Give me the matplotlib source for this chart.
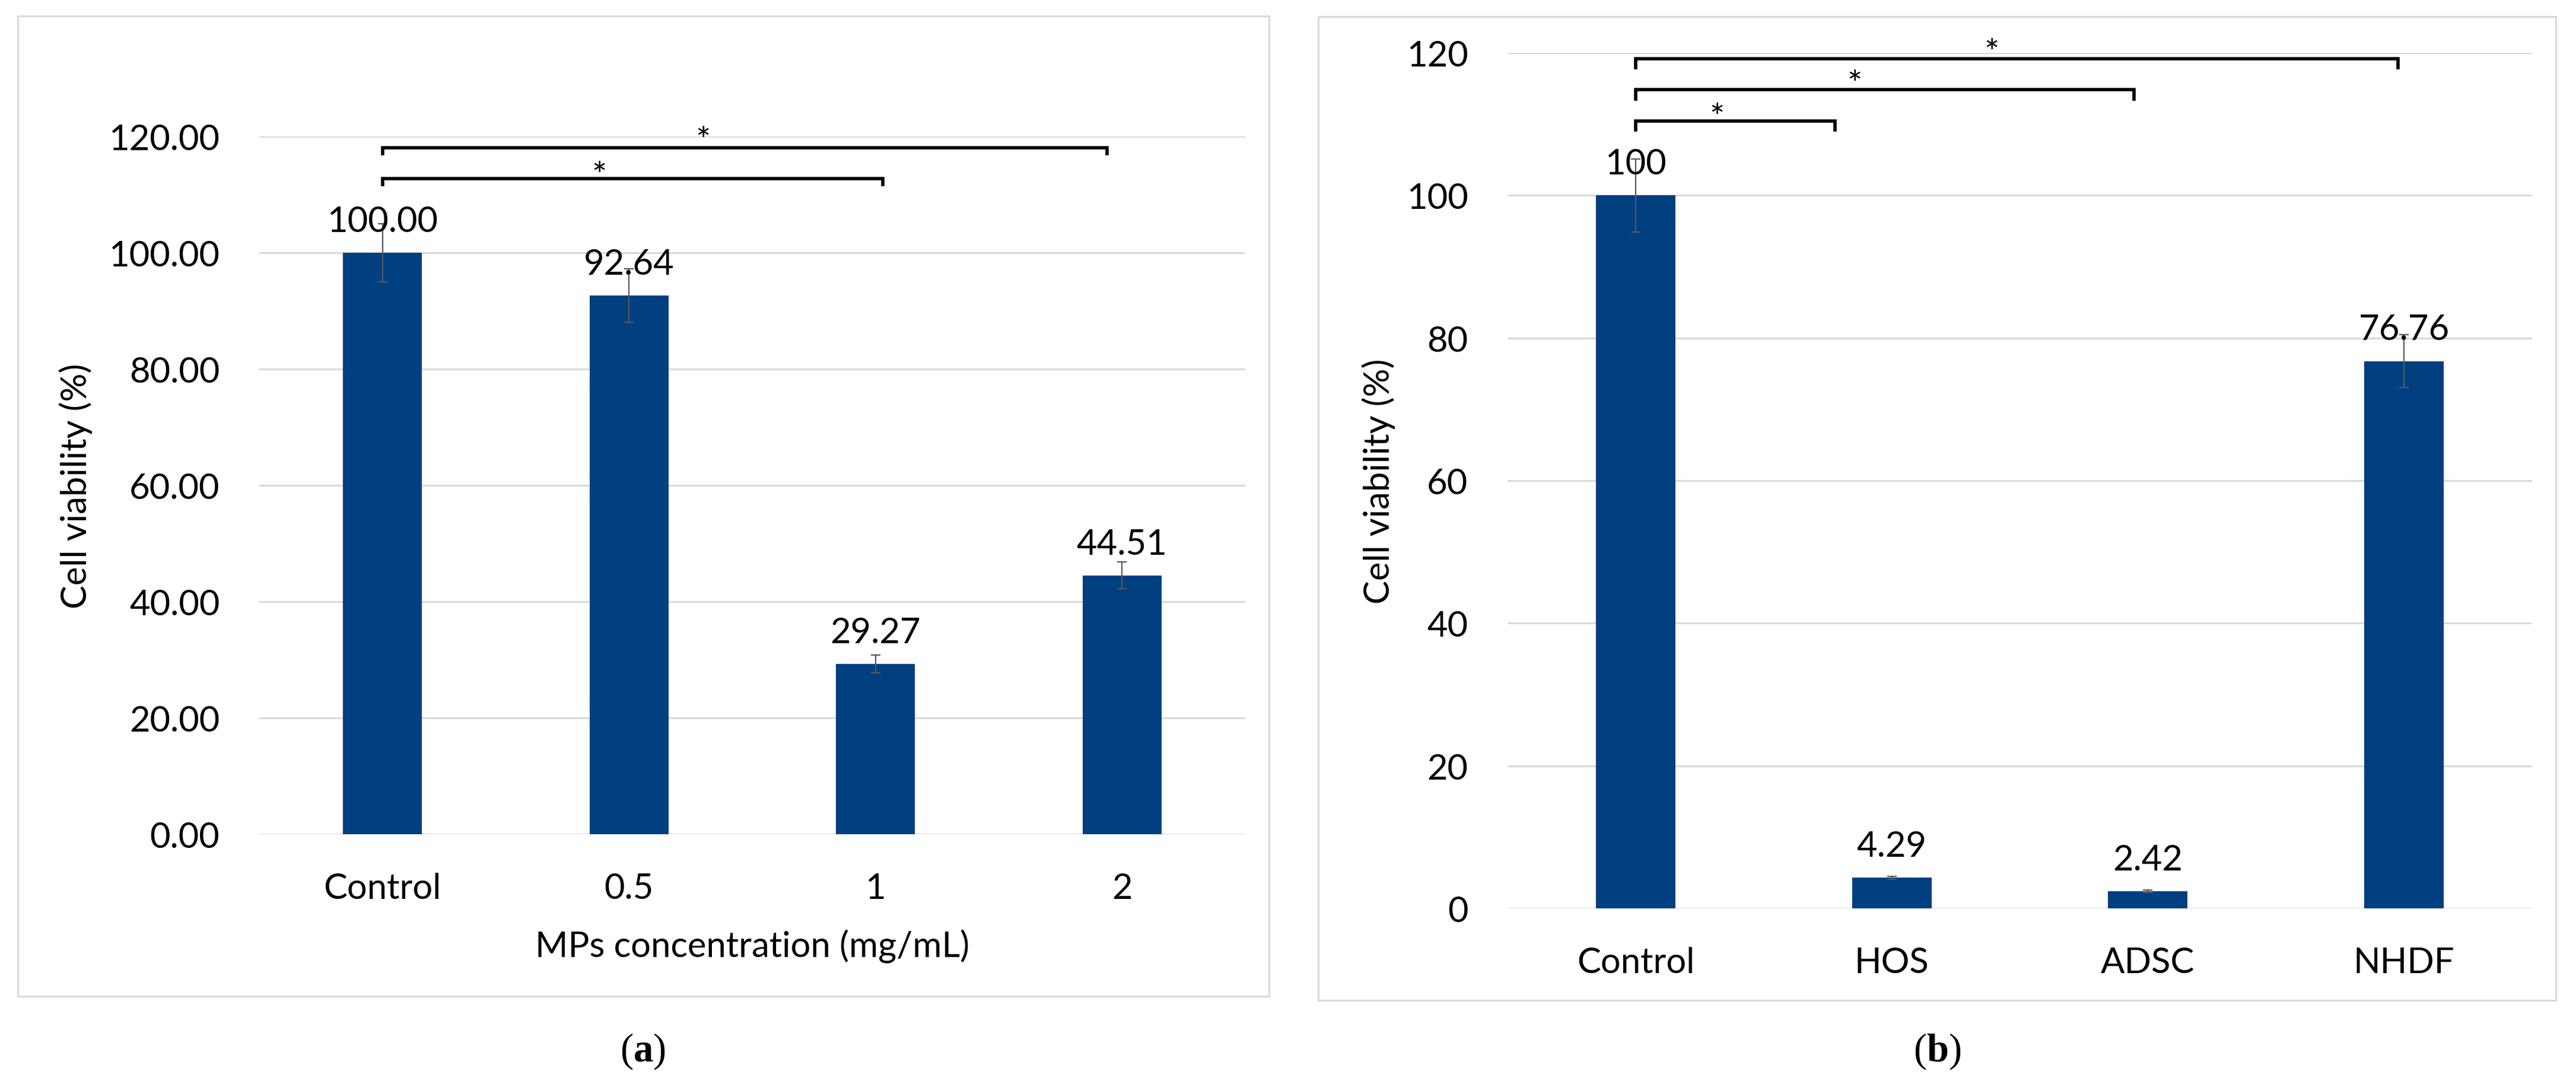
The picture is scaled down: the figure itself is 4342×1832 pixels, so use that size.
import matplotlib
matplotlib.use('Agg')
import matplotlib.pyplot as plt
from matplotlib.patches import Rectangle
from matplotlib.ticker import FormatStrFormatter
import numpy as np

plt.rcParams['font.family'] = ['Lato', 'DejaVu Sans']
plt.rcParams['mathtext.fontset'] = 'custom'
plt.rcParams['mathtext.rm'] = 'Liberation Serif'
plt.rcParams['mathtext.bf'] = 'Liberation Serif:bold'

# data, panel (a)
cats_a = ['Control', '0.5', '1', '2']
vals_a = [100.00, 92.64, 29.27, 44.51]
err_a = [5.0, 4.6, 1.5, 2.3]
labels_a = ['100.00', '92.64', '29.27', '44.51']
# brackets: (start, end, height, star x, star y)
sig_a = [(0, 2.94, 118.1, 1.30, 120.9),
         (0, 2.03, 112.8, 0.88, 114.9)]

# data, panel (b)
cats_b = ['Control', 'HOS', 'ADSC', 'NHDF']
vals_b = [100, 4.29, 2.42, 76.76]
err_b = [5.1, 0.2, 0.15, 3.7]
labels_b = ['100', '4.29', '2.42', '76.76']
sig_b = [(0, 2.976, 119.2, 1.39, 121.3),
         (0, 1.945, 114.8, 0.855, 116.9),
         (0, 0.778, 110.4, 0.317, 112.2)]

bar_color = '#003F80'
grid_color = '#D9D9D9'
fs = 43

fig = plt.figure(figsize=(43.42, 18.33), dpi=100)

# outer frames of the two panels
fig.patches.append(Rectangle((0.0069, 0.0835), 0.4857, 0.9012, transform=fig.transFigure,
                             fill=False, edgecolor=grid_color, linewidth=2.2))
fig.patches.append(Rectangle((0.5118, 0.0797), 0.4804, 0.9045, transform=fig.transFigure,
                             fill=False, edgecolor=grid_color, linewidth=2.2))

ax1 = fig.add_axes([0.10065, 0.23241, 0.38277, 0.64157])
ax2 = fig.add_axes([0.58521, 0.16421, 0.39775, 0.78669])


def draw_panel(ax, cats, vals, errs, labels, sigs, width, tick_fmt, tick_h):
    x = np.arange(len(cats))
    ax.bar(x, vals, width=width, color=bar_color, zorder=2)
    ax.errorbar(x, vals, yerr=errs, fmt='none', ecolor='#595959', elinewidth=1.6,
                capsize=6, capthick=1.6, zorder=3)
    for xi, v, lab in zip(x, vals, labels):
        ax.annotate(lab, (xi, v), xytext=(0, 26), textcoords='offset points',
                    ha='center', va='baseline', fontsize=fs, zorder=4)
    for x0, x1, y, sx, sy in sigs:
        ax.plot([x0, x0, x1, x1], [y - tick_h, y, y, y - tick_h], color='black',
                lw=4, clip_on=False, solid_joinstyle='miter', zorder=5)
        ax.annotate('*', (sx, sy), xytext=(0, -25), textcoords='offset points',
                    ha='center', va='baseline', fontsize=fs, annotation_clip=False)
    ax.set_xlim(-0.5, len(cats) - 0.5)
    ax.set_ylim(0, 120)
    ax.set_yticks(np.arange(0, 121, 20))
    ax.yaxis.set_major_formatter(FormatStrFormatter(tick_fmt))
    ax.set_xticks(x)
    ax.set_xticklabels(cats)
    ax.yaxis.grid(True, color=grid_color, linewidth=2.2, zorder=0)
    ax.set_axisbelow(True)
    for s in ax.spines.values():
        s.set_visible(False)
    ax.tick_params(axis='both', length=0, labelsize=fs)
    ax.tick_params(axis='y', pad=48)
    ax.tick_params(axis='x', pad=46)


draw_panel(ax1, cats_a, vals_a, err_a, labels_a, sig_a, 0.32, '%.2f', 1.1)
draw_panel(ax2, cats_b, vals_b, err_b, labels_b, sig_b, 0.31, '%d', 1.25)

ax1.set_ylabel('Cell viability (%)', fontsize=fs, va='center')
ax1.yaxis.set_label_coords(-0.186, 0.5)
ax1.set_xlabel('MPs concentration (mg/mL)', fontsize=fs, va='center')
ax1.xaxis.set_label_coords(0.5, -0.16)

ax2.set_ylabel('Cell viability (%)', fontsize=fs, va='center')
ax2.yaxis.set_label_coords(-0.126, 0.5)

fig.text(0.2496, 0.033, r'$(\mathbf{a})$', ha='center', va='center', fontsize=48)
fig.text(0.7519, 0.033, r'$(\mathbf{b})$', ha='center', va='center', fontsize=48)

fig.savefig('out.png', dpi=100, facecolor='white')
